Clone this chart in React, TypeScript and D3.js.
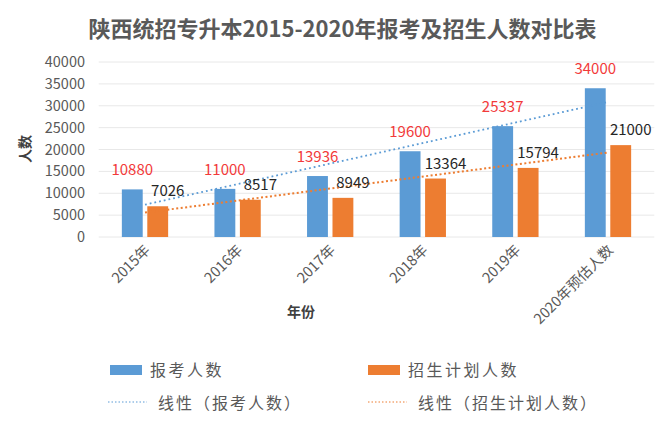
import React from "react";
import * as d3 from "d3";

const title = "陕西统招专升本2015-2020年报考及招生人数对比表";
const categories = ["2015年", "2016年", "2017年", "2018年", "2019年", "2020年预估人数"];
const applicants = [10880, 11000, 13936, 19600, 25337, 34000];
const planned = [7026, 8517, 8949, 13364, 15794, 21000];
const yTicks = [0, 5000, 10000, 15000, 20000, 25000, 30000, 35000, 40000];
const seriesNames = ["报考人数", "招生计划人数"];
const trendNames = ["线性（报考人数）", "线性（招生计划人数）"];
const xAxisTitle = "年份";
const yAxisTitle = "人数";

const W = 670;
const H = 432;
const BLUE = "#5b9bd5";
const ORANGE = "#ed7d31";
const FONT = "'Noto Sans CJK SC', 'Noto Sans', sans-serif";

function regression(vals: number[]) {
  const xs = vals.map((_, i) => i + 1);
  const mx = d3.mean(xs) as number;
  const my = d3.mean(vals) as number;
  let sxy = 0, sxx = 0;
  xs.forEach((x, i) => { sxy += (x - mx) * (vals[i] - my); sxx += (x - mx) ** 2; });
  const slope = sxy / sxx;
  return (x: number) => my + slope * (x - mx);
}

export default function App() {
  const x0 = d3.scaleBand<string>().domain(categories).range([98.7, 654.3]).paddingInner(0.5).paddingOuter(0.25);
  const x1 = d3.scaleBand<string>().domain(seriesNames).range([0, x0.bandwidth()]).paddingInner(0.18);
  const y = d3.scaleLinear().domain([0, 40000]).range([237, 62]);
  const center = (c: string) => (x0(c) as number) + x0.bandwidth() / 2;

  const trendA = regression(applicants);
  const trendB = regression(planned);
  const line = d3.line<[number, number]>().x(d => d[0]).y(d => d[1]);
  const trendPts = (f: (x: number) => number): [number, number][] =>
    categories.map((c, i) => [center(c), y(f(i + 1))] as [number, number]).filter((_, i) => i === 0 || i === categories.length - 1);

  return (
    <svg width={W} height={H} style={{ position: "absolute", left: 0, top: 0, background: "#fff" }} fontFamily={FONT}>
      <rect width={W} height={H} fill="#fff" />
      <text x={342.5} y={37} textAnchor="middle" fontSize={22} fontWeight="bold" fill="#595959">{title}</text>

      {yTicks.map(t => (
        <g key={t}>
          <line x1={98.7} x2={654.3} y1={y(t)} y2={y(t)} stroke="#e8e8e8" strokeWidth={1} />
          <text x={85} y={y(t)} dy="0.35em" textAnchor="end" fontSize={14.5} fill="#595959">{t}</text>
        </g>
      ))}

      <text transform={`translate(25,149) rotate(-90)`} textAnchor="middle" dy="0.35em" fontSize={14} fontWeight="bold" fill="#404040">{yAxisTitle}</text>

      {categories.map((c, i) => {
        const xa = (x0(c) as number) + (x1(seriesNames[0]) as number);
        const xb = (x0(c) as number) + (x1(seriesNames[1]) as number);
        const bw = x1.bandwidth();
        return (
          <g key={c}>
            <rect x={xa} y={y(applicants[i])} width={bw} height={y(0) - y(applicants[i])} fill={BLUE} />
            <rect x={xb} y={y(planned[i])} width={bw} height={y(0) - y(planned[i])} fill={ORANGE} />
          </g>
        );
      })}

      <path d={line(trendPts(trendA)) as string} fill="none" stroke={BLUE} strokeWidth={1.8} strokeDasharray="1.8,3" />
      <path d={line(trendPts(trendB)) as string} fill="none" stroke={ORANGE} strokeWidth={2} strokeDasharray="2,2.5" />

      {categories.map((c, i) => {
        const xa = (x0(c) as number) + (x1(seriesNames[0]) as number) + x1.bandwidth() / 2;
        const xb = (x0(c) as number) + (x1(seriesNames[1]) as number) + x1.bandwidth() / 2;
        return (
          <g key={c + "l"}>
            <text x={xa} y={y(applicants[i]) - 14} textAnchor="middle" fontSize={15} fill="#f23a3a">{applicants[i]}</text>
            <text x={xb + 10} y={y(planned[i]) - 10} textAnchor="middle" fontSize={15} fill="#262626">{planned[i]}</text>
          </g>
        );
      })}

      {categories.map(c => (
        <text key={c + "x"} transform={`translate(${center(c) + 6},${251}) rotate(-45)`} textAnchor="end" fontSize={14.5} fill="#595959">{c}</text>
      ))}

      <text x={301} y={312} textAnchor="middle" dy="0.35em" fontSize={14} fontWeight="bold" fill="#404040">{xAxisTitle}</text>

      {/* legend */}
      <rect x={110} y={365} width={32} height={10} fill={BLUE} />
      <text x={150} y={370} dy="0.35em" fontSize={16} letterSpacing={2.5} fill="#595959">{seriesNames[0]}</text>
      <rect x={368} y={365} width={32} height={10} fill={ORANGE} />
      <text x={408} y={370} dy="0.35em" fontSize={16} letterSpacing={2.5} fill="#595959">{seriesNames[1]}</text>
      <line x1={108} x2={147} y1={402} y2={402} stroke={BLUE} strokeWidth={1} strokeDasharray="1.5,2" />
      <text x={158} y={403} dy="0.35em" fontSize={16} letterSpacing={2} fill="#595959">{trendNames[0]}</text>
      <line x1={368} x2={407} y1={402} y2={402} stroke={ORANGE} strokeWidth={1} strokeDasharray="1.5,2" />
      <text x={418} y={403} dy="0.35em" fontSize={16} letterSpacing={2} fill="#595959">{trendNames[1]}</text>
    </svg>
  );
}
